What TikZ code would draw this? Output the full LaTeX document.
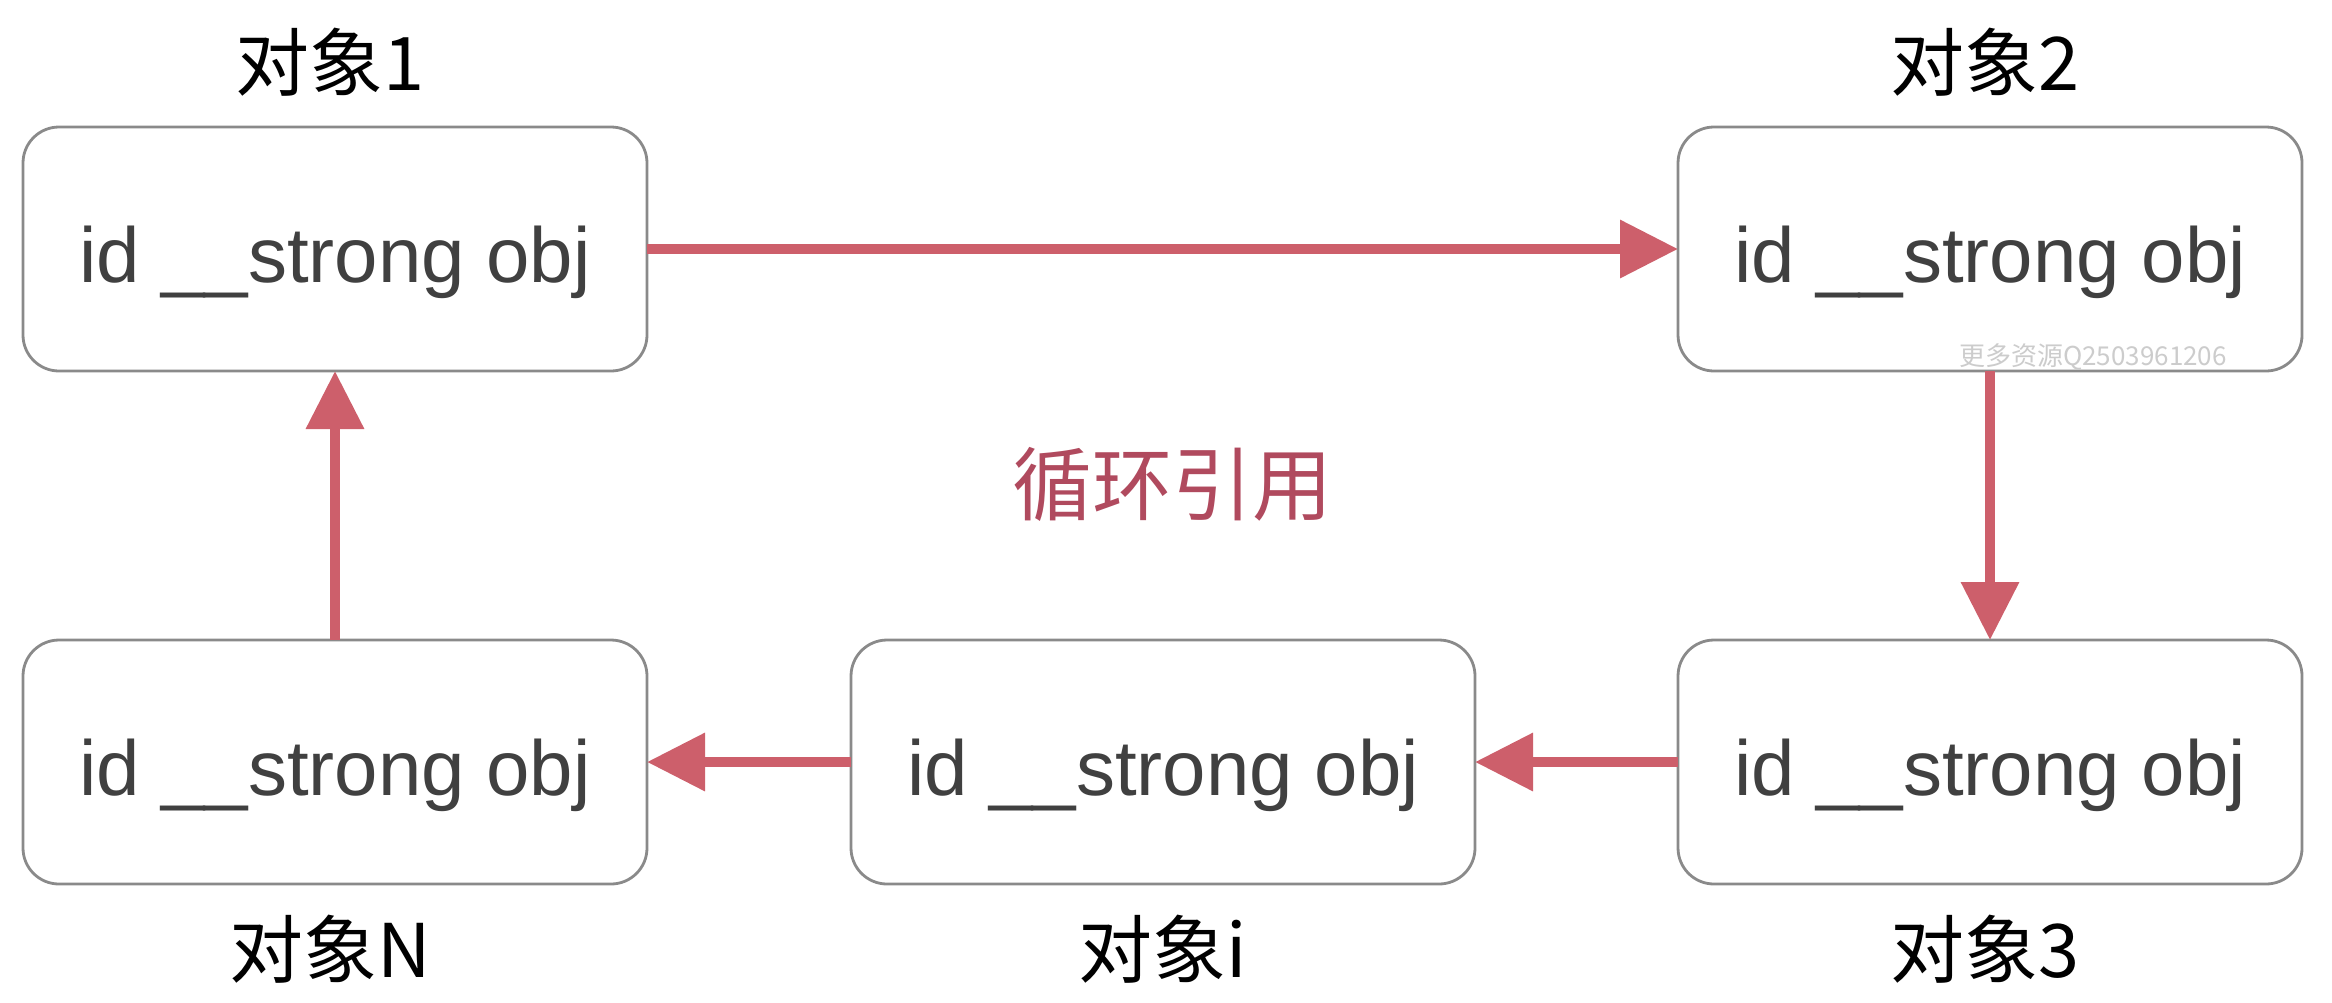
\documentclass[tikz,border=0pt]{standalone}
\usepackage{fontspec}
\setmainfont{Liberation Sans}
\newfontfamily\cjk{Noto Sans CJK SC}
\usetikzlibrary{arrows.meta}
\definecolor{boxline}{HTML}{8A8A8A}
\definecolor{boxtext}{HTML}{404040}
\definecolor{arrowred}{HTML}{CD5F6B}
\definecolor{titlered}{HTML}{B04A5E}
\definecolor{wm}{HTML}{CCCCCC}
\tikzset{
  objbox/.style={draw=boxline, line width=1.4pt, rounded corners=18pt, fill=white,
    minimum width=312pt, minimum height=122pt, inner sep=0pt, outer sep=0pt,
    text height=37pt, text depth=4pt,
    font=\fontsize{39}{44}\selectfont, text=boxtext},
  objlabel/.style={font=\cjk\fontsize{37}{42}\selectfont, text=black, inner sep=0pt},
  refarrow/.style={draw=arrowred, line width=5pt, -{Triangle[length=29pt,width=28pt]}},
}
\begin{document}
\begin{tikzpicture}[x=0.5pt,y=-0.5pt]
\useasboundingbox (0,0) rectangle (2332,1002);
\node[objbox] (o1) at (335,249) {id \_\_strong obj};
\node[objbox] (o2) at (1990,249) {id \_\_strong obj};
\node[objbox] (o3) at (1990,762) {id \_\_strong obj};
\node[objbox] (oi) at (1163,762) {id \_\_strong obj};
\node[objbox] (on) at (335,762) {id \_\_strong obj};
\node[objlabel] (l1) at (330,62) {对象1};
\node[objlabel] (l2) at (1985,62) {对象2};
\node[objlabel] (l3) at (1985,949) {对象3};
\node[objlabel] (li) at (1163,949) {对象i};
\node[objlabel] (ln) at (330,949) {对象N};
\node[font=\cjk\fontsize{40}{44}\selectfont, text=titlered, inner sep=0pt] (title) at (1172,484) {循环引用};
\node[font=\cjk\fontsize{13}{15}\selectfont, text=wm, inner sep=0pt] (wmark) at (2093,357) {更多资源Q2503961206};
\draw[refarrow] (o1) -- (o2);
\draw[refarrow] (o2) -- (o3);
\draw[refarrow] (o3) -- (oi);
\draw[refarrow] (oi) -- (on);
\draw[refarrow] (on) -- (o1);
\end{tikzpicture}
\end{document}
